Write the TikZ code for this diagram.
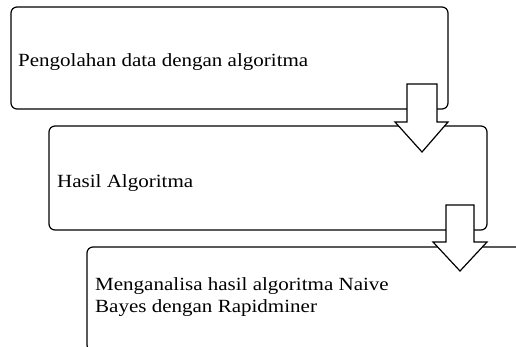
\documentclass[tikz,border=0pt]{standalone}
\usepackage{fontspec}
\setmainfont{Liberation Serif}[FakeStretch=1.13]
\usepackage{tikz}

\begin{document}
\begin{tikzpicture}[x=1pt,y=-1pt]
					\tikzstyle{box}=[rectangle,rounded corners=6pt,draw=black,line width=1.2pt,inner sep=0pt]
					\tikzstyle{label}=[anchor=base west,inner sep=0pt,font=\fontsize{18.6}{22}\selectfont,align=left]
					\tikzstyle{blockarrow}=[draw=black,fill=white,line width=1.2pt,line join=miter]
					\useasboundingbox (0,0) rectangle (516,347);
					\clip (0,0) rectangle (516,347);
					\node[box,minimum width=437pt,minimum height=102pt] (1) at (229.5,58) {};
					\node[box,minimum width=438pt,minimum height=104pt] (2) at (268,178) {};
					\node[box,minimum width=438pt,minimum height=104pt] (3) at (306,299) {};
					\node[label] (t1) at (18,66.7) {Pengolahan data dengan algoritma};
					\node[label] (t2) at (57,188) {Hasil Algoritma};
					\node[label,anchor=north west] (t3) at (95,277.5) {Menganalisa hasil algoritma Naive\\Bayes dengan Rapidminer};
					\draw[blockarrow] (407,84) -- (437,84) -- (437,122) -- (448,122) -- (422,152) -- (395,122) -- (407,122) -- cycle;
					\draw[blockarrow] (446,205) -- (474,205) -- (474,242) -- (487,242) -- (460,271) -- (433,242) -- (446,242) -- cycle;
					\end{tikzpicture}
\end{document}
